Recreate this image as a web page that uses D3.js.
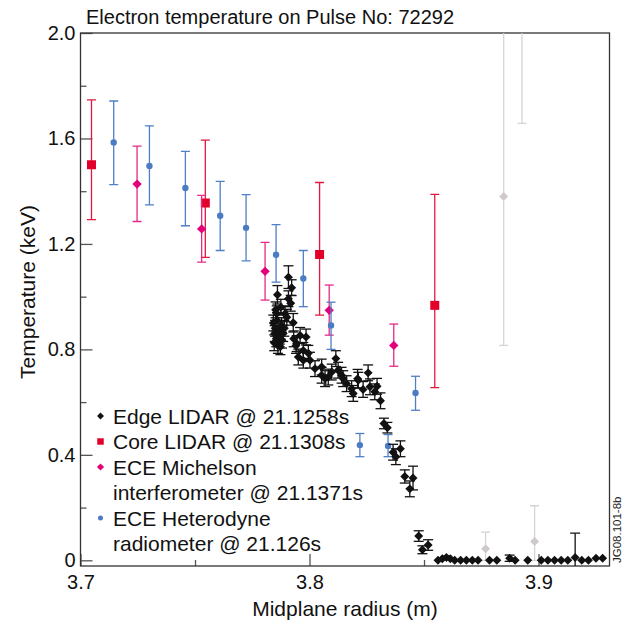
<!DOCTYPE html>
<html>
<head>
<meta charset="utf-8">
<script src="https://cdn.jsdelivr.net/npm/d3@7"></script>
<style>
  body { margin: 0; background: #fff; }
  svg { font-family: "Liberation Sans", Arial, sans-serif; }
</style>
</head>
<body>
<svg id="chart" width="634" height="628"></svg>
<script>
// ---- data ----
// Edge LIDAR (black diamonds), radius (m), Te (keV), symmetric error
let edgeR = [3.7908,3.7922,3.7860,3.7908,3.7918,3.7857,3.7893,3.7901,3.7929,3.7842,
             3.7850,3.7848,3.7855,3.7846,3.7862,3.7870,3.7866,3.7878,3.7880,3.7873,
             3.7885,3.7858,3.7890,3.7852,3.7875,3.7959,3.7985,3.7944,3.7973,3.7951,
             3.7941,3.7931,3.7973,3.8002,3.7995,3.8024,3.8053,3.8053,3.8082,3.8068,
             3.8097,3.8115,3.8125,3.8140,3.8147,3.8162,3.8184,3.8191,3.8210,3.8213,
             3.8234,3.8256,3.8264,3.8285,3.8295,3.8310,3.8325,3.8340,3.8365,3.8377,
             3.8397,3.8416,3.8452,3.8438,3.8477,3.8493,3.8518,
             3.8561,3.8580,3.8598,3.8615,3.8634,3.8660,3.8685,3.8711,3.8736,3.8786,
             3.8818,3.8874,3.8898,3.8953,3.9012,3.9041,3.9070,3.9099,3.9128,3.9160,
             3.9189,3.9218,3.9251,3.9280];
let edgeTe = [1.074,1.034,1.007,0.992,0.975,0.935,0.935,0.922,0.901,0.900,
              0.880,0.860,0.840,0.825,0.815,0.850,0.870,0.890,0.835,0.810,
              0.860,0.910,0.880,0.950,0.960,0.853,0.847,0.822,0.796,0.771,
              0.815,0.840,0.759,0.759,0.785,0.727,0.733,0.702,0.695,0.689,
              0.714,0.765,0.721,0.702,0.689,0.670,0.651,0.633,0.689,0.683,
              0.648,0.711,0.658,0.639,0.660,0.605,0.519,0.503,0.410,0.393,
              0.423,0.318,0.312,0.271,0.092,0.040,0.058,
              0.000,0.006,0.011,0.006,0.000,0.000,0.000,0.000,0.000,0.000,
              0.000,0.008,0.000,0.000,0.000,0.000,0.000,0.000,0.000,0.011,
              0.000,0.000,0.008,0.008];
let edgeErr = [0.043,0.03,0.035,0.03,0.03,0.03,0.03,0.03,0.035,0.03,
               0.03,0.03,0.03,0.03,0.03,0.03,0.03,0.03,0.03,0.03,
               0.03,0.03,0.03,0.03,0.03,0.03,0.03,0.03,0.03,0.03,
               0.03,0.03,0.03,0.03,0.03,0.03,0.03,0.03,0.03,0.03,
               0.03,0.03,0.03,0.03,0.03,0.03,0.03,0.03,0.035,0.03,
               0.03,0.03,0.03,0.03,0.03,0.03,0.02,0.02,0.03,0.03,
               0.03,0.025,0.045,0.03,0.02,0.015,0.02,
               0,0,0.005,0,0,0,0,0,0,0,
               0,0.012,0,0,0,0,0,0,0,0.092,
               0,0,0,0];

// Core LIDAR (red squares)
let coreR  = [3.7048, 3.7545, 3.8044, 3.8547];
let coreTe = [1.500, 1.355, 1.160, 0.967];
let coreHi = [1.746, 1.594, 1.433, 1.388];
let coreLo = [1.292, 1.149, 0.930, 0.655];

// ECE Michelson (magenta diamonds)
let micR  = [3.7247, 3.7529, 3.7806, 3.8086, 3.8368];
let micTe = [1.427, 1.257, 1.096, 0.948, 0.815];
let micHi = [1.571, 1.384, 1.206, 1.044, 0.896];
let micLo = [1.285, 1.131, 0.987, 0.854, 0.736];

// ECE Heterodyne (blue dots)
let hetR  = [3.7145,3.7301,3.7458,3.7610,3.7723,3.7854,3.7973,3.8094,3.8220,3.8343,3.8463];
let hetTe = [1.585,1.496,1.412,1.307,1.261,1.159,1.069,0.891,0.437,0.434,0.635];
let hetHi = [1.742,1.648,1.551,1.437,1.387,1.273,1.175,0.979,0.481,0.477,0.698];
let hetLo = [1.425,1.348,1.269,1.175,1.136,1.055,0.962,0.800,0.393,0.393,0.569];

// faded edge points (grey)
let greyR  = [3.8769, 3.8848, 3.8928, 3.8983];
let greyTe = [0.044, 1.380, 2.300, 0.071];
let greyHi = [0.107, 2.400, 2.900, 0.207];
let greyLo = [0.000, 0.815, 1.657, 0.000];

let xMajor = [3.7, 3.8, 3.9], xMajorLabels = ["3.7", "3.8", "3.9"];
let xMinor = [3.75, 3.85];
let yMajor = [0, 0.4, 0.8, 1.2, 1.6, 2.0], yMajorLabels = ["0", "0.4", "0.8", "1.2", "1.6", "2.0"];
let yMinor = [0.2, 0.6, 1.0, 1.4, 1.8];

let legendLines = [["Edge LIDAR @ 21.1258s"], ["Core LIDAR @ 21.1308s"],
                   ["ECE Michelson", "interferometer @ 21.1371s"],
                   ["ECE Heterodyne", "radiometer @ 21.126s"]];

// ---- drawing ----
let pLeft = 80.5, pRight = 609.5, pTop = 33, pBottom = 566;
let svg = d3.select("#chart");
let xScale = d3.scaleLinear([3.7, 3.931], [pLeft, pRight]);
let yScale = d3.scaleLinear([-0.0216, 2.0], [pBottom, pTop]);

svg.append("clipPath").attr("id", "plotclip")
    .append("rect").attr("x", pLeft).attr("y", pTop)
    .attr("width", pRight - pLeft).attr("height", pBottom - pTop);

function axisStyle(g) {
    g.select(".domain").remove();
    g.selectAll("line").attr("stroke", "#555").attr("stroke-width", 1.3);
    g.selectAll("text").attr("fill", "#111").attr("font-size", 20)
        .attr("font-family", "Liberation Sans, Arial, sans-serif");
}

svg.append("g").attr("transform", "translate(0," + pBottom + ")")
    .call(d3.axisBottom(xScale).tickValues(xMajor).tickSize(-12).tickPadding(9)
        .tickFormat((d, i) => xMajorLabels[i]))
    .call(axisStyle);
svg.append("g").attr("transform", "translate(0," + pBottom + ")")
    .call(d3.axisBottom(xScale).tickValues(xMinor).tickSize(-6).tickFormat(""))
    .call(axisStyle);
svg.append("g").attr("transform", "translate(" + pLeft + ",0)")
    .call(d3.axisLeft(yScale).tickValues(yMajor).tickSize(-12).tickPadding(5)
        .tickFormat((d, i) => yMajorLabels[i]))
    .call(axisStyle);
svg.append("g").attr("transform", "translate(" + pLeft + ",0)")
    .call(d3.axisLeft(yScale).tickValues(yMinor).tickSize(-6).tickFormat(""))
    .call(axisStyle);

svg.append("rect").attr("x", pLeft).attr("y", pTop)
    .attr("width", pRight - pLeft).attr("height", pBottom - pTop)
    .attr("fill", "none").attr("stroke", "#333").attr("stroke-width", 1.3);

let plot = svg.append("g").attr("clip-path", "url(#plotclip)");

function errorBars(r, lo, hi, color, capW, cls) {
    let g = plot.append("g").attr("class", cls).attr("stroke", color).attr("stroke-width", 1.3);
    let idx = d3.range(r.length).filter(i => hi[i] > lo[i]);
    g.selectAll(".v").data(idx).enter().append("line")
        .attr("x1", i => xScale(r[i])).attr("x2", i => xScale(r[i]))
        .attr("y1", i => yScale(lo[i])).attr("y2", i => yScale(hi[i]));
    g.selectAll(".ch").data(idx).enter().append("line")
        .attr("x1", i => xScale(r[i]) - capW / 2).attr("x2", i => xScale(r[i]) + capW / 2)
        .attr("y1", i => yScale(hi[i])).attr("y2", i => yScale(hi[i]));
    g.selectAll(".cl").data(idx).enter().append("line")
        .attr("x1", i => xScale(r[i]) - capW / 2).attr("x2", i => xScale(r[i]) + capW / 2)
        .attr("y1", i => yScale(lo[i])).attr("y2", i => yScale(lo[i]));
}

function markers(r, te, type, size, rot, color) {
    let sym = d3.symbol().type(type).size(size);
    plot.append("g").selectAll("path").data(d3.range(r.length)).enter().append("path")
        .attr("d", sym)
        .attr("fill", color)
        .attr("transform", i => "translate(" + xScale(r[i]) + "," + yScale(te[i]) + ") rotate(" + rot + ")");
}

// grey
errorBars(greyR, greyLo, greyHi, "#d8d3d3", 9, "grey");
markers(greyR, greyTe, d3.symbolSquare, 40, 45, "#cfc9c9");
// core
errorBars(coreR, coreLo, coreHi, "#e2183f", 9, "core");
markers(coreR, coreTe, d3.symbolSquare, 81, 0, "#e2002b");
// michelson
errorBars(micR, micLo, micHi, "#e22a88", 9, "mic");
markers(micR, micTe, d3.symbolSquare, 44, 45, "#e3007b");
// heterodyne
errorBars(hetR, hetLo, hetHi, "#4f7fc4", 9, "het");
markers(hetR, hetTe, d3.symbolCircle, 32, 0, "#4a7bc3");
// edge lidar
let edgeLo = edgeTe.map((v, i) => v - edgeErr[i]);
let edgeHi = edgeTe.map((v, i) => v + edgeErr[i]);
errorBars(edgeR, edgeLo, edgeHi, "#111", 10, "edge");
markers(edgeR, edgeTe, d3.symbolSquare, 40, 45, "#111");

// legend
let legSymbols = [
    {type: d3.symbolSquare, size: 24, rot: 45, color: "#111"},
    {type: d3.symbolSquare, size: 42, rot: 0, color: "#e2002b"},
    {type: d3.symbolSquare, size: 26, rot: 45, color: "#e3007b"},
    {type: d3.symbolCircle, size: 20, rot: 0, color: "#4a7bc3"}
];
let legX = 100.5, legTextX = 113, legY = 423.5, legStep = 25.5;
let row = 0;
legendLines.forEach(function (lines, k) {
    let by = legY + row * legStep;
    let s = legSymbols[k];
    svg.append("path").attr("d", d3.symbol().type(s.type).size(s.size))
        .attr("fill", s.color)
        .attr("transform", "translate(" + legX + "," + (by - 7.5) + ") rotate(" + s.rot + ")");
    lines.forEach(function (t, j) {
        svg.append("text").attr("x", legTextX).attr("y", by + j * legStep)
            .attr("font-size", 21).attr("fill", "#111").text(t);
    });
    row += lines.length;
});

// titles
svg.append("text").attr("x", 86).attr("y", 24).attr("font-size", 20).attr("fill", "#111")
    .text("Electron temperature on Pulse No: 72292");
svg.append("text").attr("x", (pLeft + pRight) / 2).attr("y", 616).attr("text-anchor", "middle")
    .attr("font-size", 21).attr("fill", "#111").text("Midplane radius (m)");
svg.append("text").attr("transform", "translate(35,292) rotate(-90)").attr("text-anchor", "middle")
    .attr("font-size", 21).attr("fill", "#111").text("Temperature (keV)");
svg.append("text").attr("transform", "translate(621,563) rotate(-90)")
    .attr("font-size", 11.5).attr("fill", "#222").text("JG08.101-8b");
</script>
</body>
</html>
